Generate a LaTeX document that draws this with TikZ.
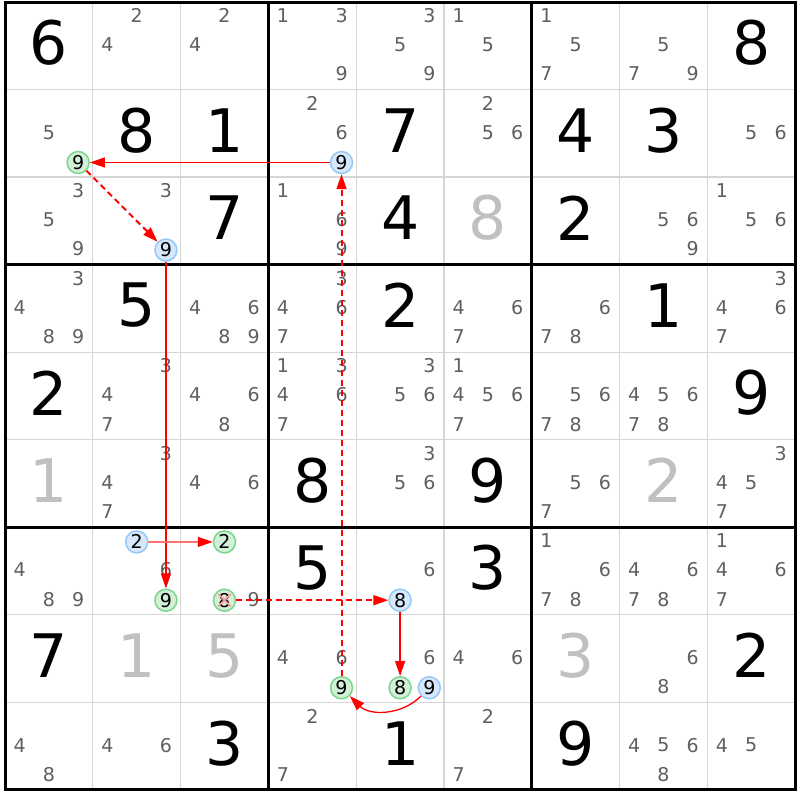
\documentclass[tikz,border=0pt]{standalone}
\usepackage{fontspec}
\setmainfont{DejaVu Sans}
\usetikzlibrary{arrows.meta}

\definecolor{candgray}{RGB}{95,95,95}
\definecolor{solvedgray}{RGB}{192,192,192}
\definecolor{gridgray}{RGB}{214,214,214}
\definecolor{bluefill}{RGB}{214,232,252}
\definecolor{blueline}{RGB}{150,200,245}
\definecolor{greenfill}{RGB}{210,240,215}
\definecolor{greenline}{RGB}{120,215,140}

\begin{document}
\begin{tikzpicture}[
    x=87.8pt,
    y=-87.55pt,
    thingrid/.style={
        gridgray,
        line width=1.3pt
    },
    thickgrid/.style={
        black,
        line width=3pt,
        line cap=rect
    },
    cand/.style={
        text=candgray,
        inner sep=0pt,
        yshift=1pt,
        font=\fontsize{19}{19}\selectfont
    },
    given/.style={
        inner sep=0pt,
        yshift=3pt,
        font=\fontsize{60}{60}\selectfont
    },
    solved/.style={
        given,
        text=solvedgray
    },
    bluenode/.style={
        circle,
        draw=blueline,
        fill=bluefill,
        line width=1.5pt,
        minimum size=22pt,
        inner sep=0pt,
        font=\fontsize{19}{19}\selectfont
    },
    greennode/.style={
        bluenode,
        draw=greenline,
        fill=greenfill
    },
    strong/.style={
        -{Triangle[length=15pt,width=10pt]},
        red,
        line width=1.3pt
    },
    weak/.style={
        strong,
        dash pattern=on 6pt off 4pt,
        line width=2pt
    }
]

\useasboundingbox (-0.057,-0.023) rectangle (9.055,9.115);
\fill[white] (-0.057,-0.023) rectangle (9.055,9.115);

% Griglia
\foreach \i in {1,2,4,5,7,8} {
    \draw[thingrid] (\i,0) -- (\i,9);
    \draw[thingrid] (0,\i) -- (9,\i);
}
\foreach \i in {0,3,6,9} {
    \draw[thickgrid] (\i,0) -- (\i,9);
    \draw[thickgrid] (0,\i) -- (9,\i);
}

% Numeri dati
\foreach \row/\col/\val in {1/1/6, 1/9/8, 2/2/8, 2/3/1, 2/5/7, 2/7/4, 2/8/3,
    3/3/7, 3/5/4, 3/7/2, 4/2/5, 4/5/2, 4/8/1, 5/1/2, 5/9/9, 6/4/8, 6/6/9,
    7/4/5, 7/6/3, 8/1/7, 8/9/2, 9/3/3, 9/5/1, 9/7/9}
    \node[given] (g\row\col) at (\col-0.5,\row-0.5) {\val};

% Numeri risolti
\foreach \row/\col/\val in {3/6/8, 6/1/1, 6/8/2, 8/2/1, 8/3/5, 8/7/3}
    \node[solved] (g\row\col) at (\col-0.5,\row-0.5) {\val};

% Candidati
\foreach \row/\col/\digs in {
    1/2/{2,4}, 1/3/{2,4}, 1/4/{1,3,9}, 1/5/{3,5,9}, 1/6/{1,5}, 1/7/{1,5,7}, 1/8/{5,7,9},
    2/1/{5}, 2/4/{2,6}, 2/6/{2,5,6}, 2/9/{5,6},
    3/1/{3,5,9}, 3/2/{3}, 3/4/{1,6,9}, 3/8/{5,6,9}, 3/9/{1,5,6},
    4/1/{3,4,8,9}, 4/3/{4,6,8,9}, 4/4/{3,4,6,7}, 4/6/{4,6,7}, 4/7/{6,7,8}, 4/9/{3,4,6,7},
    5/2/{3,4,7}, 5/3/{4,6,8}, 5/4/{1,3,4,6,7}, 5/5/{3,5,6}, 5/6/{1,4,5,6,7}, 5/7/{5,6,7,8}, 5/8/{4,5,6,7,8},
    6/2/{3,4,7}, 6/3/{4,6}, 6/5/{3,5,6}, 6/7/{5,6,7}, 6/9/{3,4,5,7},
    7/1/{4,8,9}, 7/2/{6}, 7/3/{9}, 7/5/{6}, 7/7/{1,6,7,8}, 7/8/{4,6,7,8}, 7/9/{1,4,6,7},
    8/4/{4,6}, 8/5/{6}, 8/6/{4,6}, 8/8/{6,8},
    9/1/{4,8}, 9/2/{4,6}, 9/4/{2,7}, 9/6/{2,7}, 9/8/{4,5,6,8}, 9/9/{4,5}}
    \foreach \dig in \digs {
        \pgfmathsetmacro\cx{\col-1+(mod(\dig-1,3)+0.5)/3}
        \pgfmathsetmacro\cy{\row-1+(int((\dig-1)/3)+0.5)/3}
        \node[cand] (r\row c\col-\dig) at (\cx,\cy) {\dig};
    }

% Candidati evidenziati
\node[greennode] (r2c1-9) at (0.833,1.833) {9};
\node[bluenode]  (r2c4-9) at (3.833,1.833) {9};
\node[bluenode]  (r3c2-9) at (1.833,2.833) {9};
\node[bluenode]  (r7c2-2) at (1.5,6.167) {2};
\node[greennode] (r7c2-9) at (1.833,6.833) {9};
\node[greennode] (r7c3-2) at (2.5,6.167) {2};
\node[greennode] (r7c3-8) at (2.5,6.833) {8};
\node[bluenode]  (r7c5-8) at (4.5,6.833) {8};
\node[greennode] (r8c4-9) at (3.833,7.833) {9};
\node[greennode] (r8c5-8) at (4.5,7.833) {8};
\node[bluenode]  (r8c5-9) at (4.833,7.833) {9};

% Candidato eliminato
\draw[red!40, line width=1.8pt, shorten <=3pt, shorten >=3pt] (r7c3-8.north west) -- (r7c3-8.south east);
\draw[red!40, line width=1.8pt, shorten <=3pt, shorten >=3pt] (r7c3-8.north east) -- (r7c3-8.south west);

% Catena
\draw[strong] (r2c4-9) -- (r2c1-9);
\draw[weak] (r2c1-9) -- (r3c2-9);
\draw[strong] (r3c2-9) -- (r7c2-9);
\draw[strong, red!55, -{Triangle[length=15pt,width=10pt,color=red]}] (r7c2-2) -- (r7c3-2);
\draw[weak] (r7c3-8) -- (r7c5-8);
\draw[strong] (r7c5-8) -- (r8c5-8);
\draw[strong] (r8c5-9) to[bend left=45] (r8c4-9);
\draw[weak] (r8c4-9) -- (r2c4-9);

\end{tikzpicture}
\end{document}
